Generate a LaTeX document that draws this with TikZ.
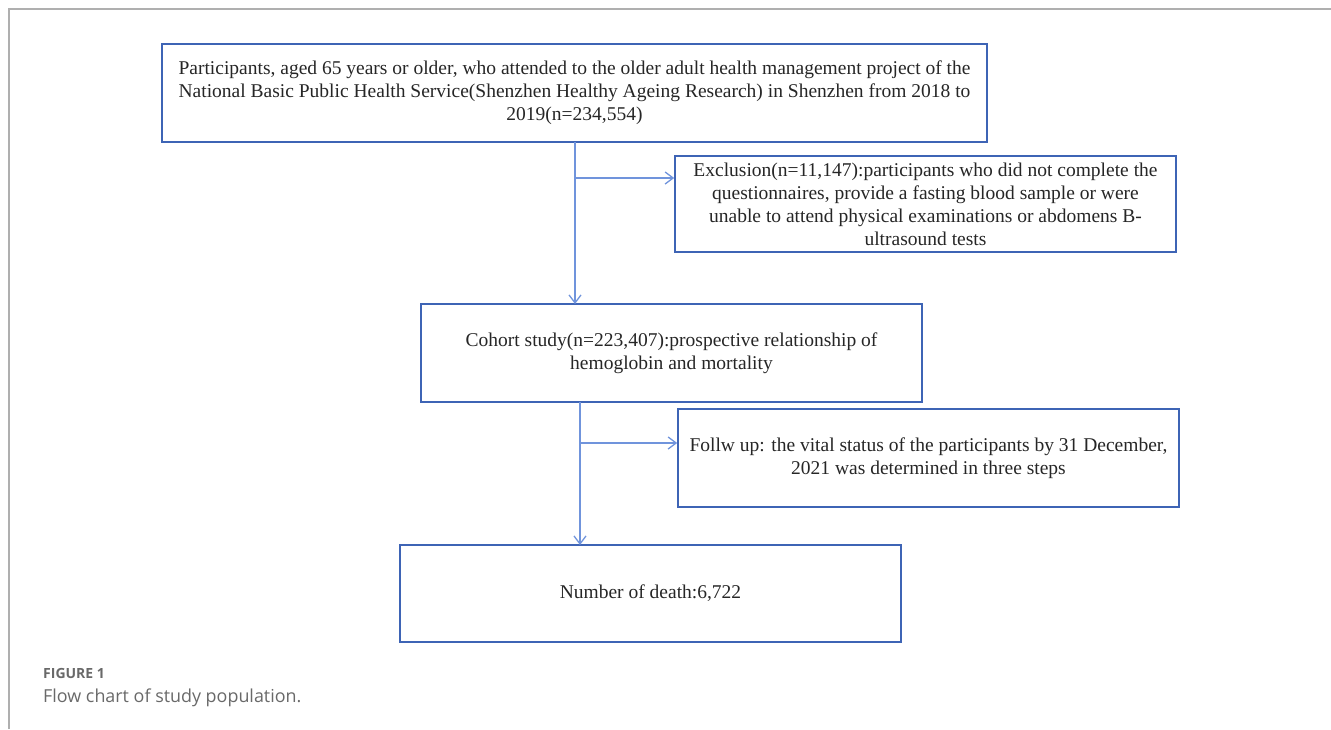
\documentclass[tikz,border=0pt]{standalone}
\usepackage{fontspec}
\setmainfont{Liberation Serif}
\newfontfamily\capfont{Open Sans}
\usetikzlibrary{arrows.meta}
\definecolor{boxblue}{RGB}{62,100,181}
\definecolor{arrblue}{RGB}{112,148,220}
\definecolor{framegray}{RGB}{175,175,175}
\definecolor{capgray}{RGB}{105,105,105}
\begin{document}
\begin{tikzpicture}[x=1pt,y=-1pt,
  flowbox/.style={draw=boxblue,line width=1.6pt,minimum width=#1,minimum height=97pt,align=center,inner sep=0pt,font=\fontsize{19.5}{23}\selectfont,text=black!85},
  conn/.style={draw=arrblue,line width=1.3pt},
  arr/.style={conn,-{Straight Barb[length=8pt,width=12pt,line width=1.3pt]}}]
\useasboundingbox (0,0) rectangle (1331,729);
\draw[framegray,line width=1.4pt] (9,729) -- (9,9) -- (1331,9);
\node[flowbox=825pt,minimum height=98pt] (b1) at (574.5,93) {Participants, aged 65 years or older, who attended to the older adult health management project of the\\National Basic Public Health Service(Shenzhen Healthy Ageing Research) in Shenzhen from 2018 to\\2019(n=234,554)};
\node[flowbox=501pt,minimum height=96pt] (b2) at (925.5,204) {Exclusion(n=11,147):participants who did not complete the\\questionnaires, provide a fasting blood sample or were\\unable to attend physical examinations or abdomens B-\\ultrasound tests};
\node[flowbox=501pt,minimum height=98pt] (b3) at (671.5,353) {Cohort study(n=223,407):prospective relationship of\\hemoglobin and mortality};
\node[flowbox=501pt,minimum height=98pt] (b4) at (928.5,458) {Follw up: the vital status of the participants by 31 December,\\2021 was determined in three steps};
\node[flowbox=501pt,minimum height=97pt] (b5) at (650.5,593.5) {Number of death:6,722};
\coordinate (s1) at (575,142);
\coordinate (j1) at (575,178);
\coordinate (e1) at (575,304);
\coordinate (s2) at (580,402);
\coordinate (j2) at (580,443);
\coordinate (e2) at (580,545);
\draw[arr] (s1) -- (e1);
\draw[arr] (j1) -- (j1 -| b2.west);
\draw[arr] (s2) -- (e2);
\draw[arr] (j2) -- (j2 -| b4.west);
\node[anchor=base west,inner sep=0pt,font=\capfont\fontsize{14}{16}\selectfont\bfseries,text=capgray] (f1) at (43,678) {FIGURE 1};
\node[anchor=base west,inner sep=0pt,font=\capfont\fontsize{17.9}{20}\selectfont,text=capgray] (f2) at (43,702) {Flow chart of study population.};
\end{tikzpicture}
\end{document}
